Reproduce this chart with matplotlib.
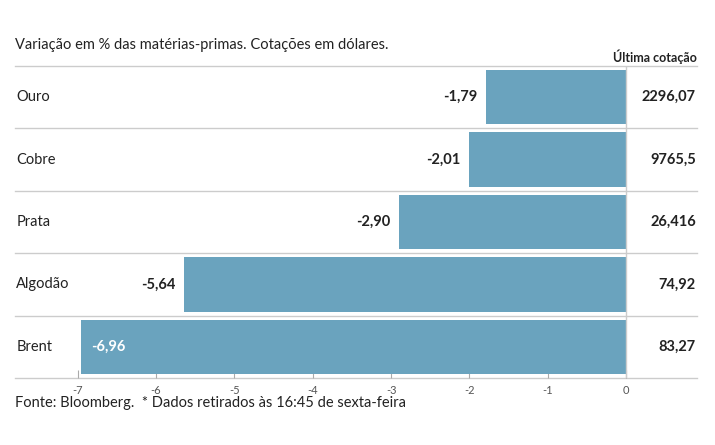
import matplotlib
matplotlib.use('Agg')
import matplotlib.pyplot as plt

# Lato é um pouco mais estreita, mais perto da PT Sans do original
plt.rcParams['font.family'] = ['Lato', 'DejaVu Sans']

categorias = ['Ouro', 'Cobre', 'Prata', 'Algodão', 'Brent']
variacao = [-1.79, -2.01, -2.90, -5.64, -6.96]
cotacao = ['2296,07', '9765,5', '26,416', '74,92', '83,27']
ticks = [-7, -6, -5, -4, -3, -2, -1, 0]

cor_barra = '#6aa3be'
cor_texto = '#222222'
cor_linha = '#cccccc'

fig = plt.figure(figsize=(7.15, 4.45), dpi=100)
ax = fig.add_axes([0.021, 0.1506, 0.954, 0.7011])

y = list(range(len(categorias)))
ax.barh(y, variacao, height=0.87, color=cor_barra, zorder=2)

ax.set_xlim(-7.80, 0.907)
ax.set_ylim(len(categorias) - 0.5, -0.5)

# linhas separadoras
for k in range(len(categorias) + 1):
    ax.axhline(k - 0.5, color=cor_linha, lw=1, zorder=1, clip_on=False)
ax.axvline(0, color=cor_linha, lw=1, zorder=3)

for i, (cat, v, c) in enumerate(zip(categorias, variacao, cotacao)):
    ax.text(0.002, i, cat, transform=ax.get_yaxis_transform(), ha='left', va='center',
            fontsize=10.5, color=cor_texto)
    txt = f'{v:.2f}'.replace('.', ',')
    if v < -6:
        ax.text(v + 0.13, i, txt, ha='left', va='center', fontsize=10.5,
                fontweight='bold', color='white', zorder=4)
    else:
        ax.text(v - 0.11, i, txt, ha='right', va='center', fontsize=10.5,
                fontweight='bold', color=cor_texto, zorder=4)
    ax.text(0.998, i, c, transform=ax.get_yaxis_transform(), ha='right', va='center',
            fontsize=10.5, fontweight='bold', color=cor_texto)

ax.text(1.0, 1.0 + 0.03, 'Última cotação', transform=ax.transAxes, ha='right', va='center',
        fontsize=9, fontweight='bold', color=cor_texto)

ax.set_xticks(ticks)
ax.set_xticklabels([str(t) for t in ticks])
ax.set_yticks([])
ax.tick_params(axis='x', direction='in', length=6, width=0.8, color='#aaaaaa', labelsize=8,
               labelcolor='#555555', pad=5)
for s in ax.spines.values():
    s.set_visible(False)

fig.text(0.021, 0.899, 'Variação em % das matérias-primas. Cotações em dólares.',
         ha='left', va='center', fontsize=10.5, color=cor_texto)
fig.text(0.021, 0.094, 'Fonte: Bloomberg.  * Dados retirados às 16:45 de sexta-feira',
         ha='left', va='center', fontsize=10.5, color=cor_texto)

fig.savefig('out.png', dpi=100)
